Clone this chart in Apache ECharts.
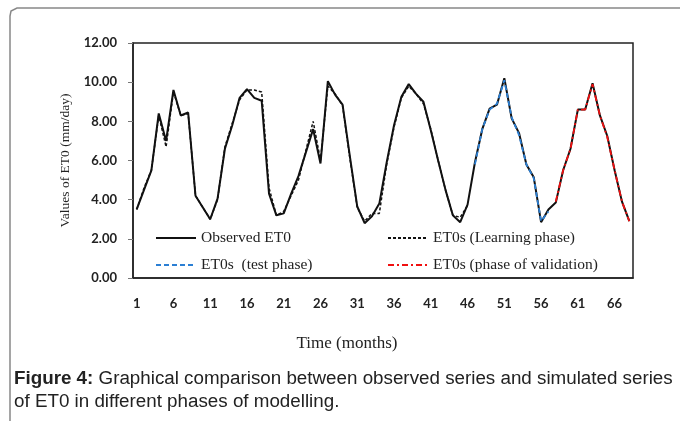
<!DOCTYPE html>
<html>
<head>
<meta charset="utf-8">
<script src="https://cdn.jsdelivr.net/npm/echarts@6/dist/echarts.min.js"></script>
<style>
  html, body { margin: 0; padding: 0; background: #fff; }
  #chart { width: 683px; height: 421px; }
</style>
</head>
<body>
<div id="chart"></div>
<script>
// Mois 1..68
const months = [];
for (let i = 1; i <= 68; i++) months.push(String(i));

// ET0 observée (mm/jour)
const observed = [
  3.5, 4.5, 5.5, 8.4, 7.0, 9.6, 8.3, 8.45, 4.2, 3.6,
  3.0, 4.05, 6.6, 7.8, 9.2, 9.65, 9.2, 9.05, 4.3, 3.2,
  3.3, 4.3, 5.2, 6.4, 7.6, 5.85, 10.05, 9.35, 8.85, 6.2,
  3.65, 2.8, 3.15, 3.8, 5.9, 7.8, 9.25, 9.9, 9.4, 9.0,
  7.55, 6.0, 4.5, 3.2, 2.85, 3.75, 5.9, 7.6, 8.65, 8.85,
  10.2, 8.15, 7.4, 5.8, 5.15, 2.85, 3.5, 3.85, 5.5, 6.6,
  8.6, 8.6, 9.95, 8.3, 7.25, 5.5, 3.9, 2.9
];

// ET0 simulée - phase d'apprentissage (mois 1..46)
const learning = [
  3.5, 4.6, 5.5, 8.3, 6.7, 9.5, 8.3, 8.4, 4.2, 3.6,
  3.0, 4.0, 6.7, 7.9, 9.1, 9.6, 9.6, 9.5, 4.6, 3.2,
  3.4, 4.2, 5.0, 6.5, 8.0, 6.0, 9.8, 9.4, 8.8, 6.1,
  3.6, 2.9, 3.3, 3.3, 5.8, 7.7, 9.2, 9.8, 9.4, 8.9,
  7.6, 6.0, 4.5, 3.2, 3.1, 3.7
];

// ET0 simulée - phase de test (mois 47..57)
const testPhase = [5.8, 7.6, 8.6, 8.9, 10.1, 8.2, 7.3, 5.8, 5.1, 2.9, 3.4];

// ET0 simulée - phase de validation (mois 58..68)
const validation = [3.9, 5.5, 6.6, 8.6, 8.6, 9.9, 8.3, 7.2, 5.5, 3.9, 2.9];

const yTicks = { min: 0, max: 12, step: 2 };

// place une série partielle sur l'axe complet
function pad(values, start) {
  const out = months.map(() => null);
  values.forEach((v, i) => { out[start + i] = v; });
  return out;
}

const serif = "'Liberation Serif', 'Times New Roman', serif";
const sans = "'Liberation Sans', Arial, sans-serif";
const tickFont = { fontFamily: "Lato, sans-serif", fontWeight: "bold", fontSize: 13, color: "#222" };

// légende : trait seul, sans symbole
const legendBase = {
  orient: "vertical", top: 230, padding: 0, itemGap: 11,
  itemWidth: 40, itemHeight: 14,
  itemStyle: { opacity: 0 },
  textStyle: { fontFamily: serif, fontSize: 15.5, color: "#222" }
};

const chart = echarts.init(document.getElementById("chart"));

chart.setOption({
  animation: false,
  backgroundColor: "#fff",
  grid: {
    left: 133, top: 43, right: 50, bottom: 143,
    show: true, borderColor: "#222", borderWidth: 1.5
  },
  xAxis: {
    type: "category",
    data: months,
    boundaryGap: true,
    name: "Time (months)",
    nameLocation: "middle",
    nameGap: 57,
    nameTextStyle: { fontFamily: serif, fontSize: 17, color: "#222", padding: [0, 72, 0, 0] },
    axisLine: { lineStyle: { color: "#222", width: 1.5 } },
    axisTick: { interval: 0, length: 3, lineStyle: { color: "#777" } },
    axisLabel: Object.assign({ interval: 4, margin: 19 }, tickFont)
  },
  yAxis: {
    type: "value",
    min: yTicks.min, max: yTicks.max, interval: yTicks.step,
    name: "Values of ET0 (mm/day)",
    nameLocation: "middle",
    nameGap: 50,
    nameTextStyle: { fontFamily: serif, fontSize: 13.5, color: "#222" },
    axisLine: { show: true, lineStyle: { color: "#222", width: 1.5 } },
    axisTick: { show: true, length: 5, lineStyle: { color: "#777" } },
    splitLine: { show: false },
    axisLabel: Object.assign({ margin: 16, formatter: (v) => v.toFixed(2) }, tickFont)
  },
  legend: [
    Object.assign({ left: 155, data: ["Observed ET0", "ET0s  (test phase)"] }, legendBase),
    Object.assign({ left: 387, data: ["ET0s (Learning phase)", "ET0s (phase of validation)"] }, legendBase)
  ],
  series: [
    {
      name: "Observed ET0", type: "line", data: observed,
      symbol: "none", lineStyle: { color: "#111", width: 2 }, itemStyle: { color: "#111" }
    },
    {
      name: "ET0s (Learning phase)", type: "line", data: pad(learning, 0),
      symbol: "none", lineStyle: { color: "#111", width: 1.5, type: [3, 2] }, itemStyle: { color: "#111" }
    },
    {
      name: "ET0s  (test phase)", type: "line", data: pad(testPhase, 46),
      symbol: "none", lineStyle: { color: "#2b7fd4", width: 1.8, type: [5, 3] }, itemStyle: { color: "#2b7fd4" }
    },
    {
      name: "ET0s (phase of validation)", type: "line", data: pad(validation, 57),
      symbol: "none", lineStyle: { color: "#f01010", width: 1.8, type: [6, 3, 2, 3] }, itemStyle: { color: "#f01010" }
    }
  ],
  graphic: [
    // cadre de la figure
    {
      type: "polyline",
      shape: { points: [[10, 421], [10, 16], [11, 11], [17, 8], [680, 8]] },
      style: { stroke: "#888", lineWidth: 1.5, fill: null }
    },
    {
      type: "text", left: 14, top: 367,
      style: {
        text: "{b|Figure 4:} Graphical comparison between observed series and simulated series\nof ET0 in different phases of modelling.",
        font: "18.8px " + sans,
        fill: "#222",
        lineHeight: 23,
        rich: { b: { fontWeight: "bold", fontSize: 18.8, fontFamily: sans, fill: "#222" } }
      }
    }
  ]
});
</script>
</body>
</html>
